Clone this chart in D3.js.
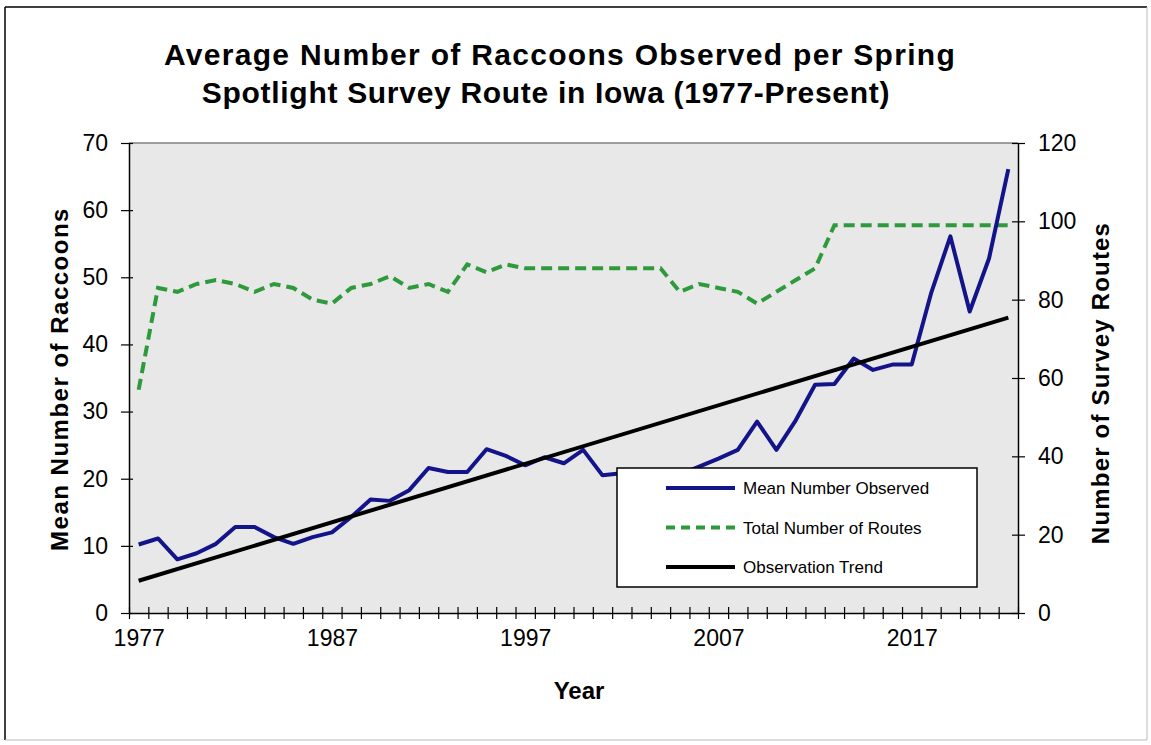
<!DOCTYPE html>
<html>
<head>
<meta charset="utf-8">
<script src="https://cdn.jsdelivr.net/npm/d3@7"></script>
<style>
  html, body { margin: 0; padding: 0; background: #ffffff; }
  svg { display: block; font-family: "Liberation Sans", Arial, sans-serif; }
</style>
</head>
<body>
<svg id="chart" width="1151" height="745"></svg>
<script>
const years = [1977,1978,1979,1980,1981,1982,1983,1984,1985,1986,1987,1988,1989,1990,1991,1992,1993,1994,1995,1996,1997,1998,1999,2000,2001,2002,2003,2004,2005,2006,2007,2008,2009,2010,2011,2012,2013,2014,2015,2016,2017,2018,2019,2020,2021,2022];
const meanObserved = [10.2,11.1,8.0,8.9,10.3,12.8,12.8,11.3,10.3,11.3,12.0,14.3,16.9,16.7,18.3,21.6,21.0,21.0,24.4,23.4,22.0,23.2,22.3,24.3,20.5,20.8,21.3,20.2,20.6,21.8,23.0,24.3,28.5,24.3,28.7,34.0,34.1,37.9,36.2,37.0,37.0,47.6,56.1,44.9,52.8,66.1];
const totalRoutes = [57,83,82,84,85,84,82,84,83,80,79,83,84,86,83,84,82,89,87,89,88,88,88,88,88,88,88,88,82,84,83,82,79,82,85,88,99,99,99,99,99,99,99,99,99,99];
const trendYears = [1977, 2022];
const trendValues = [4.8, 44.0];
const xLabelYears = [1977, 1987, 1997, 2007, 2017];
const leftTicks = [0,10,20,30,40,50,60,70];
const rightTicks = [0,20,40,60,80,100,120];
const legendLabels = ["Mean Number Observed", "Total Number of Routes", "Observation Trend"];

const svg = d3.select("#chart");
const FONT = '"Liberation Sans", Arial, sans-serif';
const plot = {left: 129, right: 1018, top: 143, bottom: 613};

// outer frame
svg.append("line").attr("x1",5).attr("y1",7).attr("x2",1147).attr("y2",7).attr("stroke","#000").attr("stroke-width",1.5);
svg.append("line").attr("x1",5).attr("y1",7).attr("x2",5).attr("y2",740).attr("stroke","#000").attr("stroke-width",1.5);
svg.append("line").attr("x1",1147).attr("y1",7).attr("x2",1147).attr("y2",740).attr("stroke","#bbb").attr("stroke-width",1);
svg.append("line").attr("x1",5).attr("y1",740).attr("x2",1147).attr("y2",740).attr("stroke","#bbb").attr("stroke-width",1);

// scales
const x = d3.scaleLinear().domain([years[0]-0.5, years[years.length-1]+0.5]).range([plot.left, plot.right]);
const yL = d3.scaleLinear().domain([0,70]).range([plot.bottom, plot.top]);
const yR = d3.scaleLinear().domain([0,120]).range([plot.bottom, plot.top]);

// plot background
svg.append("rect").attr("x",plot.left).attr("y",plot.top)
  .attr("width",plot.right-plot.left).attr("height",plot.bottom-plot.top)
  .attr("fill","#e8e8e8");
svg.append("line").attr("x1",plot.left).attr("x2",plot.right).attr("y1",plot.top).attr("y2",plot.top)
  .attr("stroke","#808080").attr("stroke-width",1.5);

// lines
const blueLine = d3.line().x((d,i)=>x(years[i])).y(d=>yL(d));
const greenLine = d3.line().x((d,i)=>x(years[i])).y(d=>yR(d));
const trendLine = d3.line().x((d,i)=>x(trendYears[i])).y(d=>yL(d));

svg.append("path").datum(totalRoutes).attr("d",greenLine).attr("fill","none")
  .attr("stroke","#2f9a3c").attr("stroke-width",4).attr("stroke-dasharray","11,6");
svg.append("path").datum(meanObserved).attr("d",blueLine).attr("fill","none")
  .attr("stroke","#14148a").attr("stroke-width",4).attr("stroke-linejoin","round");
svg.append("path").datum(trendValues).attr("d",trendLine).attr("fill","none")
  .attr("stroke","#000").attr("stroke-width",4);

// axes
const boundaries = years.map(y=>y-0.5).concat([years[years.length-1]+0.5]);
const xTickAxis = svg.append("g").attr("transform",`translate(0,${plot.bottom})`)
  .call(d3.axisBottom(x).tickValues(boundaries).tickFormat("").tickSizeInner(6).tickSizeOuter(0));
xTickAxis.selectAll(".tick line").attr("y1",-6).attr("y2",6).attr("stroke","#000").attr("stroke-width",1.2);
xTickAxis.select(".domain").attr("stroke","#000").attr("stroke-width",1.5);

const xLabAxis = svg.append("g").attr("transform",`translate(0,${plot.bottom})`)
  .call(d3.axisBottom(x).tickValues(xLabelYears).tickFormat(d3.format("d")).tickSize(0).tickPadding(17));
xLabAxis.select(".domain").remove();
xLabAxis.selectAll("text").attr("font-family",FONT).attr("font-size",23).attr("fill","#000");

const yLAxis = svg.append("g").attr("transform",`translate(${plot.left},0)`)
  .call(d3.axisLeft(yL).tickValues(leftTicks).tickSizeInner(8).tickSizeOuter(0).tickPadding(13));
yLAxis.selectAll(".tick line").attr("x2",-8).attr("x1",4).attr("stroke","#000").attr("stroke-width",1.2);
yLAxis.select(".domain").attr("stroke","#000").attr("stroke-width",1.5);
yLAxis.selectAll("text").attr("font-family",FONT).attr("font-size",23).attr("fill","#000");

const yRAxis = svg.append("g").attr("transform",`translate(${plot.right},0)`)
  .call(d3.axisRight(yR).tickValues(rightTicks).tickSizeInner(7).tickSizeOuter(0).tickPadding(13));
yRAxis.selectAll(".tick line").attr("x1",-6).attr("x2",7).attr("stroke","#000").attr("stroke-width",1.2);
yRAxis.select(".domain").attr("stroke","#000").attr("stroke-width",1.5);
yRAxis.selectAll("text").attr("font-family",FONT).attr("font-size",23).attr("fill","#000");

// titles
svg.append("text").attr("x",560).attr("y",65).attr("text-anchor","middle")
  .attr("font-family",FONT).attr("font-weight","bold").attr("font-size",30).attr("letter-spacing",1.3)
  .text("Average Number of Raccoons Observed per Spring");
svg.append("text").attr("x",546).attr("y",103).attr("text-anchor","middle")
  .attr("font-family",FONT).attr("font-weight","bold").attr("font-size",30).attr("letter-spacing",0.7)
  .text("Spotlight Survey Route in Iowa (1977-Present)");
svg.append("text").attr("x",579).attr("y",699).attr("text-anchor","middle")
  .attr("font-family",FONT).attr("font-weight","bold").attr("font-size",24).text("Year");
svg.append("text").attr("transform","translate(68,379) rotate(-90)").attr("text-anchor","middle")
  .attr("font-family",FONT).attr("font-weight","bold").attr("font-size",24).attr("letter-spacing",1.5)
  .text("Mean Number of Raccoons");
svg.append("text").attr("transform","translate(1109,383) rotate(-90)").attr("text-anchor","middle")
  .attr("font-family",FONT).attr("font-weight","bold").attr("font-size",24).attr("letter-spacing",1.2)
  .text("Number of Survey Routes");

// legend
const lg = svg.append("g");
lg.append("rect").attr("x",617).attr("y",468).attr("width",360).attr("height",119)
  .attr("fill","#fff").attr("stroke","#000").attr("stroke-width",1.5);
const legendStyles = [
  {stroke:"#14148a", dash:null},
  {stroke:"#2f9a3c", dash:"9,6"},
  {stroke:"#000", dash:null}
];
const legendY = d3.scalePoint().domain(legendLabels).range([488, 567]);
legendLabels.forEach((lab,i)=>{
  const yy = legendY(lab);
  lg.append("line").attr("x1",666).attr("x2",735).attr("y1",yy).attr("y2",yy)
    .attr("stroke",legendStyles[i].stroke).attr("stroke-width",4)
    .attr("stroke-dasharray",legendStyles[i].dash);
  lg.append("text").attr("x",743).attr("y",yy+6).attr("font-family",FONT).attr("font-size",17)
    .attr("fill","#000").text(lab);
});
</script>
</body>
</html>
